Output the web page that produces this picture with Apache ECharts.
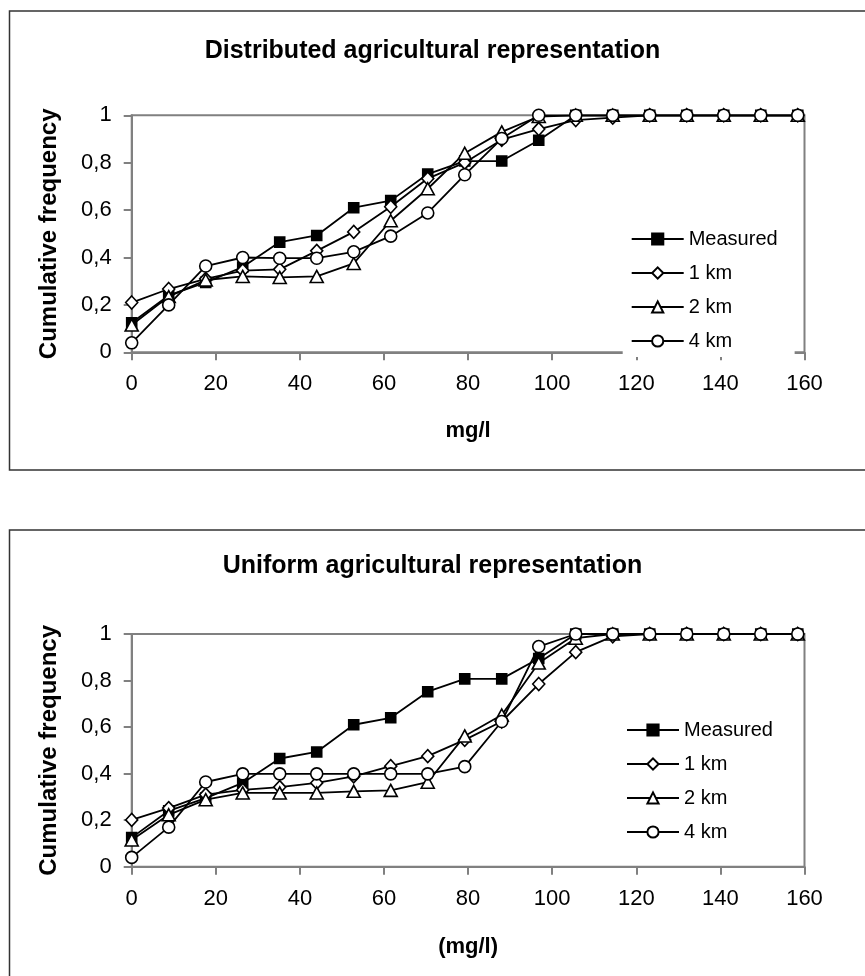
<!DOCTYPE html>
<html><head><meta charset="utf-8">
<script src="https://cdn.jsdelivr.net/npm/echarts@6/dist/echarts.min.js"></script>
<style>html,body{margin:0;padding:0;background:#fff}#c{width:865px;height:976px}</style>
</head><body><div id="c"></div><script>
// ---- data ----
var xs = [0, 8.8, 17.6, 26.4, 35.2, 44, 52.8, 61.6, 70.4, 79.2, 88, 96.8, 105.6, 114.4, 123.2, 132, 140.8, 149.6, 158.4];
var measured = [0.125, 0.24, 0.295, 0.36, 0.465, 0.493, 0.61, 0.64, 0.752, 0.807, 0.807, 0.895, 1, 1, 1, 1, 1, 1, 1];
var dist1km = [0.21, 0.267, 0.31, 0.345, 0.35, 0.428, 0.508, 0.614, 0.733, 0.8, 0.897, 0.942, 0.98, 0.99, 1, 1, 1, 1, 1];
var dist2km = [0.115, 0.235, 0.305, 0.32, 0.316, 0.32, 0.375, 0.555, 0.69, 0.84, 0.93, 0.995, 1, 1, 1, 1, 1, 1, 1];
var dist4km = [0.04, 0.2, 0.364, 0.4, 0.397, 0.397, 0.424, 0.49, 0.588, 0.749, 0.902, 1, 1, 1, 1, 1, 1, 1, 1];
var uni1km = [0.201, 0.252, 0.31, 0.33, 0.342, 0.36, 0.388, 0.432, 0.475, 0.545, 0.624, 0.785, 0.922, 0.99, 1, 1, 1, 1, 1];
var uni2km = [0.115, 0.223, 0.288, 0.317, 0.317, 0.317, 0.324, 0.328, 0.363, 0.562, 0.652, 0.875, 0.982, 1, 1, 1, 1, 1, 1];
var uni4km = [0.04, 0.17, 0.364, 0.399, 0.399, 0.399, 0.399, 0.399, 0.399, 0.43, 0.624, 0.946, 1, 1, 1, 1, 1, 1, 1];
var seriesNames = ['Measured', '1 km', '2 km', '4 km'];
var titles = ['Distributed agricultural representation', 'Uniform agricultural representation'];
var xNames = ['mg/l', '(mg/l)'];
var yName = 'Cumulative frequency';
var yTickLabels = ['0', '0,2', '0,4', '0,6', '0,8', '1'];

// ---- chart ----
var FONT = 'Liberation Sans, Arial, sans-serif';
var GRAY = '#808080';
function pairs(ys) { return xs.map(function (x, i) { return [x, ys[i]]; }); }
var symbols = [
  { symbol: 'rect', size: 10, fill: '#000' },
  { symbol: 'diamond', size: [12, 13], fill: '#fff' },
  { symbol: 'triangle', size: [13, 12], fill: '#fff' },
  { symbol: 'circle', size: 12, fill: '#fff' }
];
function mkSeries(idx, ys, g) {
  var s = symbols[idx];
  return {
    name: seriesNames[idx], type: 'line', xAxisIndex: g, yAxisIndex: g,
    data: pairs(ys), symbol: s.symbol, symbolSize: s.size, showAllSymbol: true,
    lineStyle: { color: '#000', width: 1.8 },
    itemStyle: { color: s.fill, borderColor: '#000', borderWidth: 1.6 },
    emphasis: { disabled: true }, animation: false, z: 3 + idx
  };
}
var grids = [
  { left: 131.7, width: 672.8, top: 115.3, height: 237, show: true, borderColor: GRAY, borderWidth: 2, backgroundColor: 'transparent' },
  { left: 131.7, width: 672.8, top: 634, height: 232.7, show: true, borderColor: GRAY, borderWidth: 2, backgroundColor: 'transparent' }
];
function xAxis(g) {
  return {
    type: 'value', gridIndex: g, min: 0, max: 160, interval: 20,
    name: xNames[g], nameLocation: 'middle', nameGap: g === 0 ? 68 : 69,
    nameTextStyle: { fontFamily: FONT, fontWeight: 'bold', fontSize: 22, color: '#000' },
    axisLine: { show: true, lineStyle: { color: GRAY, width: 2 } },
    axisTick: { show: true, length: 8, lineStyle: { color: GRAY, width: 2 } },
    axisLabel: { fontFamily: FONT, fontSize: 22, color: '#000', margin: 21 },
    splitLine: { show: false }
  };
}
function yAxis(g) {
  return {
    type: 'value', gridIndex: g, min: 0, max: 1, interval: 0.2,
    name: yName, nameLocation: 'middle', nameGap: 70,
    nameTextStyle: { fontFamily: FONT, fontWeight: 'bold', fontSize: 24, color: '#000' },
    axisLine: { show: true, lineStyle: { color: GRAY, width: 2 } },
    axisTick: { show: true, length: 8, lineStyle: { color: GRAY, width: 2 } },
    axisLabel: { fontFamily: FONT, fontSize: 22, color: '#000', margin: 20,
      formatter: function (v) { return yTickLabels[Math.round(v / 0.2)]; } },
    splitLine: { show: false }
  };
}
function legend(g, left, top) {
  return {
    data: seriesNames, orient: 'vertical', left: left, top: top,
    itemWidth: 52, itemHeight: 14, itemGap: 12,
    padding: [8, 17, 5, 8], backgroundColor: '#fff',
    textStyle: { fontFamily: FONT, fontSize: 20, color: '#000', lineHeight: 22 },
    selectedMode: false, z: 10
  };
}
var option = {
  animation: false,
  backgroundColor: '#fff',
  title: [
    { text: titles[0], left: 'center', top: 34, textStyle: { fontFamily: FONT, fontWeight: 'bold', fontSize: 25, color: '#000' } },
    { text: titles[1], left: 'center', top: 549, textStyle: { fontFamily: FONT, fontWeight: 'bold', fontSize: 25, color: '#000' } }
  ],
  grid: grids,
  xAxis: [xAxis(0), xAxis(1)],
  yAxis: [yAxis(0), yAxis(1)],
  legend: [legend(0, 622.7, 220), legend(1, 618, 711)],
  series: [
    mkSeries(0, measured, 0), mkSeries(1, dist1km, 0), mkSeries(2, dist2km, 0), mkSeries(3, dist4km, 0),
    mkSeries(0, measured, 1), mkSeries(1, uni1km, 1), mkSeries(2, uni2km, 1), mkSeries(3, uni4km, 1)
  ],
  graphic: [
    { type: 'rect', silent: true, shape: { x: 9.5, y: 11, width: 900, height: 459 }, style: { fill: 'none', stroke: '#333', lineWidth: 1.5 } },
    { type: 'rect', silent: true, shape: { x: 9.5, y: 530, width: 900, height: 500 }, style: { fill: 'none', stroke: '#333', lineWidth: 1.5 } }
  ]
};
var chart = echarts.init(document.getElementById('c'), null, { renderer: 'canvas' });
chart.setOption(option);
</script></body></html>
